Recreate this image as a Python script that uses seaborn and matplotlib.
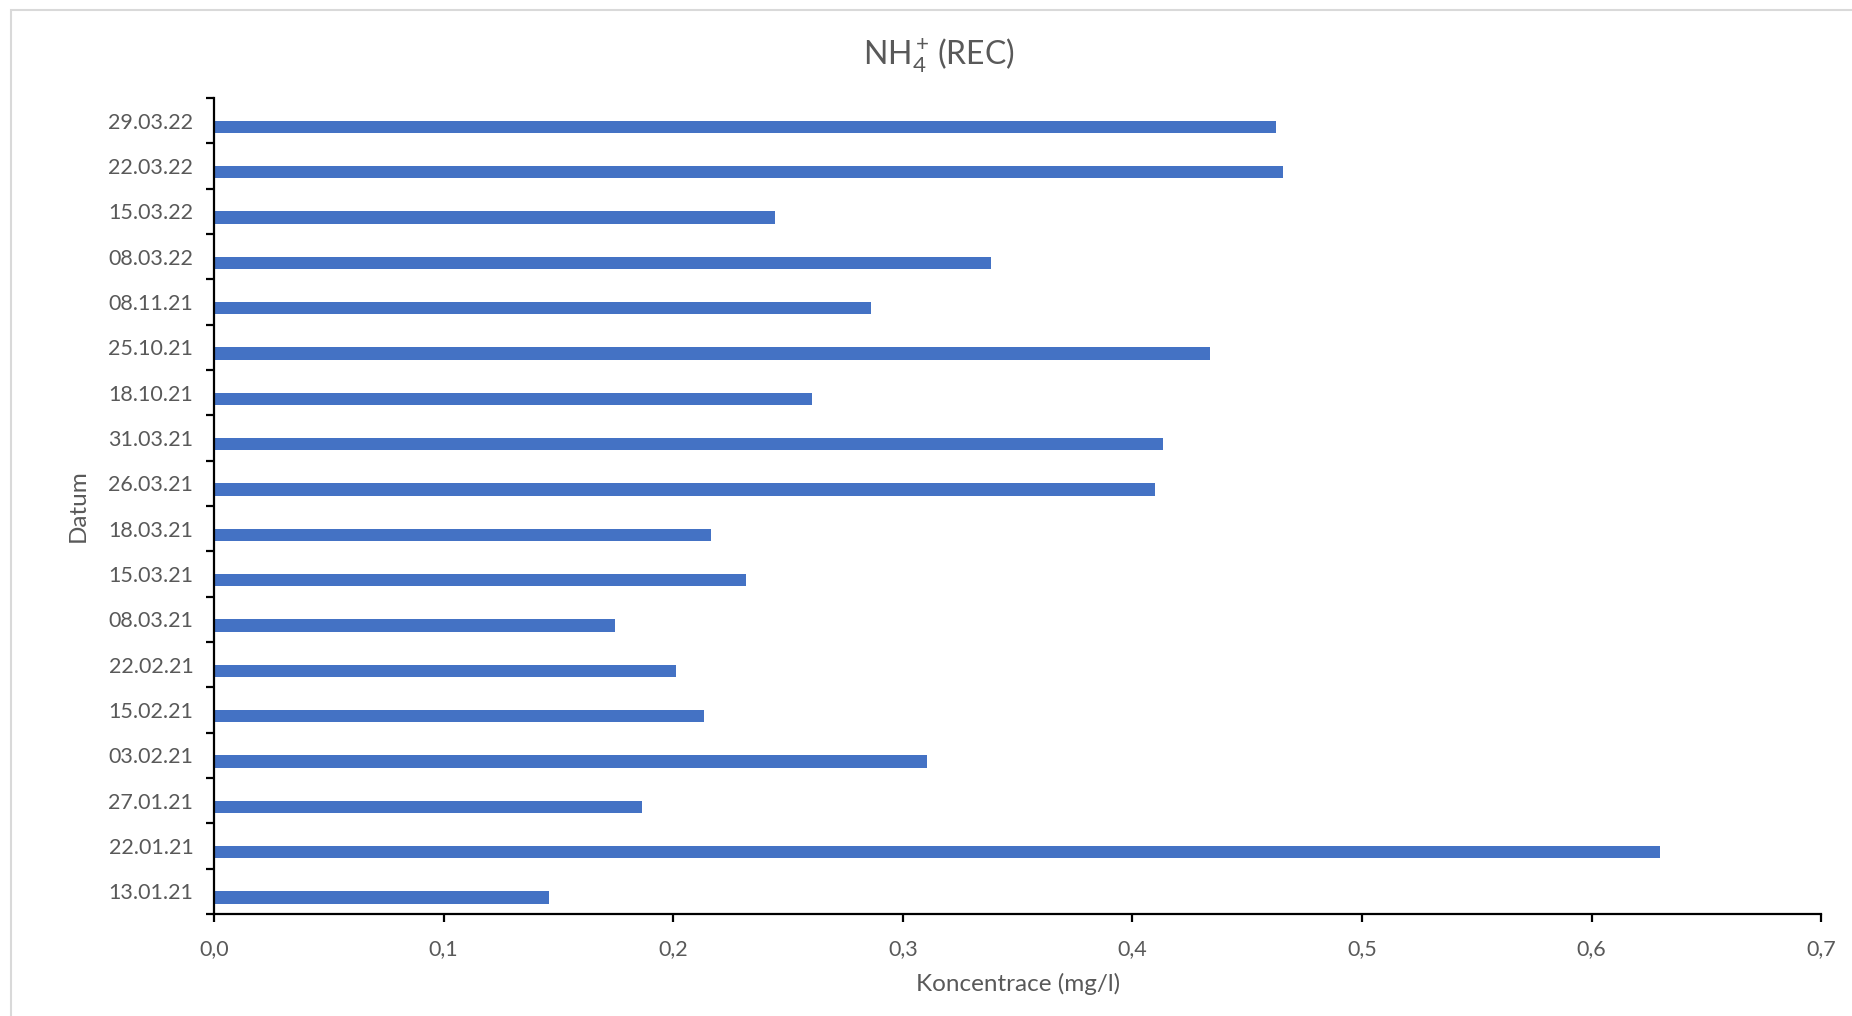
import pandas as pd
import matplotlib.pyplot as plt
import matplotlib.patches as mpatches
from matplotlib.ticker import FuncFormatter, MultipleLocator
import seaborn as sns

# --- DATA (bottom to top, as in the chart) ---
dates = ["13.01.21", "22.01.21", "27.01.21", "03.02.21", "15.02.21", "22.02.21",
         "08.03.21", "15.03.21", "18.03.21", "26.03.21", "31.03.21", "18.10.21",
         "25.10.21", "08.11.21", "08.03.22", "15.03.22", "22.03.22", "29.03.22"]
values = [0.146, 0.630, 0.1865, 0.3105, 0.2136, 0.2013,
          0.1746, 0.2316, 0.2166, 0.4100, 0.4135, 0.2605,
          0.4337, 0.2860, 0.3384, 0.2444, 0.4658, 0.4625]
x_ticks = [0.0, 0.1, 0.2, 0.3, 0.4, 0.5, 0.6, 0.7]

# Excel-style: the visible series sits in the lower half of each slot,
# next to an empty companion series
df = pd.concat([
    pd.DataFrame({"Datum": dates, "Koncentrace": 0.0, "serie": "_"}),
    pd.DataFrame({"Datum": dates, "Koncentrace": values, "serie": "REC"}),
])

# --- STYLE ---
sns.set_style("white")
plt.rcParams['font.family'] = ['Lato', 'DejaVu Sans']
plt.rcParams['mathtext.fontset'] = 'custom'
plt.rcParams['mathtext.rm'] = 'Lato'
plt.rcParams['mathtext.it'] = 'Lato:italic'
plt.rcParams['mathtext.bf'] = 'Lato:bold'
txt = '#595959'
blue = '#4472C4'

fig = plt.figure(figsize=(18.52, 10.16), dpi=100)
ax = fig.add_axes([0.1156, 0.1004, 0.8677, 0.8031])

sns.barplot(data=df, y="Datum", x="Koncentrace", hue="serie",
            order=dates[::-1], hue_order=["_", "REC"],
            palette={"_": "white", "REC": blue}, saturation=1, width=0.54,
            linewidth=0, legend=False, ax=ax)

# --- AXES ---
ax.set_xlim(0, 0.7)
ax.set_xticks(x_ticks)
ax.xaxis.set_major_formatter(FuncFormatter(lambda v, p: f"{v:.1f}".replace('.', ',')))
ax.set_ylim(len(dates) - 0.5, -0.5)
ax.yaxis.set_minor_locator(MultipleLocator(1, offset=0.5))

for side in ['top', 'right']:
    ax.spines[side].set_visible(False)
for side in ['left', 'bottom']:
    ax.spines[side].set_color('black')
    ax.spines[side].set_linewidth(1.6)

ax.tick_params(axis='y', which='major', length=0, pad=15, labelsize=15.5, labelcolor=txt)
ax.tick_params(axis='y', which='minor', left=True, length=6, width=1.6, color='black', direction='out')
ax.tick_params(axis='x', which='major', bottom=True, length=6, width=1.6, color='black',
               direction='out', pad=12, labelsize=15.5, labelcolor=txt)

ax.set_xlabel('Koncentrace (mg/l)', fontsize=17.5, color=txt, labelpad=10)
ax.set_ylabel('Datum', fontsize=17.5, color=txt, labelpad=14)

fig.text(0.507, 0.945, r'NH$_4^+\!$ (REC)', ha='center', va='center', fontsize=23, color=txt)

# chart area border
fig.patches.append(mpatches.Rectangle((11 / 1852, -0.05), 1.1, 1 - 10 / 1016 + 0.05,
                                      transform=fig.transFigure, fill=False,
                                      edgecolor='#D9D9D9', linewidth=1.5))

plt.savefig('out.png', dpi=100)
